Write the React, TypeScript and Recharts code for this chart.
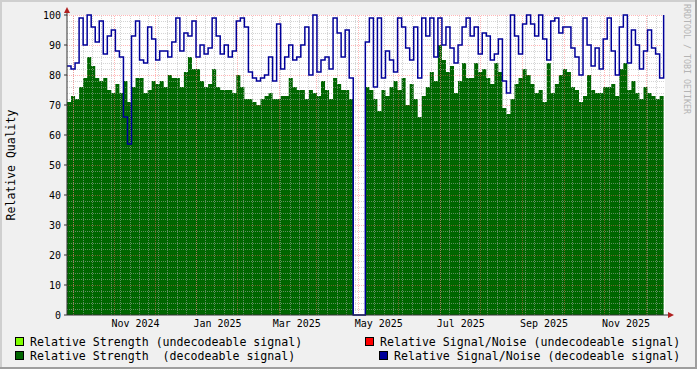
import React from 'react'
import {
  ComposedChart,
  Area,
  Line,
  XAxis,
  YAxis,
  CartesianGrid,
  ReferenceLine
} from 'recharts'

const MONO = '"DejaVu Sans Mono", monospace'
const DAY = 86400000
const START = Date.UTC(2024, 8, 11)
const END = START + 445 * DAY
const SAMPLE_DAYS = 3

// relative strength (decodeable), one sample every 3 days
const strength = [
  71, 73, 72, 76, 79, 86, 83, 79, 78, 79, 75, 74, 77, 74, 78, 71, 76, 79, 79, 74, 75, 78, 77, 78, 76,
  80, 79, 79, 76, 81, 86, 82, 82, 78, 76, 77, 82, 76, 75, 75, 75, 74, 80, 76, 72, 72, 71, 70, 72, 73,
  74, 72, 72, 73, 73, 79, 76, 75, 75, 72, 75, 74, 73, 78, 75, 72, 79, 77, 75, 75, 72, 0, 0, 0, 76,
  75, 72, 68, 75, 73, 76, 78, 75, 79, 70, 77, 72, 66, 73, 76, 81, 78, 90, 85, 81, 83, 74, 78, 84,
  79, 79, 84, 81, 82, 79, 77, 84, 81, 69, 67, 72, 77, 79, 82, 80, 77, 74, 75, 71, 84, 74, 77, 80, 82,
  81, 76, 75, 71, 73, 80, 75, 74, 74, 76, 76, 77, 73, 82, 84, 75, 78, 74, 72, 76, 74, 73, 72, 73, 79
]

// relative signal/noise (decodeable)
const snr = [
  83, 82, 84, 99, 90, 100, 96, 91, 98, 87, 93, 95, 88, 86, 66, 57, 93, 98, 85, 84, 96, 92, 85, 88, 88,
  86, 91, 99, 88, 94, 93, 98, 86, 90, 87, 89, 99, 93, 87, 90, 86, 88, 98, 99, 96, 81, 79, 78, 79, 80,
  86, 78, 97, 82, 86, 90, 85, 86, 90, 96, 80, 100, 81, 85, 86, 82, 99, 94, 86, 95, 79, 0, 0, 0, 91,
  99, 76, 99, 79, 88, 85, 81, 99, 96, 89, 85, 96, 79, 99, 93, 99, 86, 99, 90, 96, 89, 84, 90, 96,
  99, 93, 96, 87, 94, 93, 85, 87, 92, 78, 74, 100, 93, 87, 97, 100, 97, 93, 100, 92, 85, 98, 99, 94, 96,
  96, 89, 86, 80, 99, 90, 83, 89, 82, 92, 99, 88, 80, 96, 100, 84, 95, 90, 82, 88, 95, 89, 87, 79, 100
]

const tickLabels = ['Nov 2024', 'Jan 2025', 'Mar 2025', 'May 2025', 'Jul 2025', 'Sep 2025', 'Nov 2025']
const tickDates = [
  Date.UTC(2024, 10, 1), Date.UTC(2025, 0, 1), Date.UTC(2025, 2, 1), Date.UTC(2025, 4, 1),
  Date.UTC(2025, 6, 1), Date.UTC(2025, 8, 1), Date.UTC(2025, 10, 1)
]
const yTicks = [0, 10, 20, 30, 40, 50, 60, 70, 80, 90, 100]

const rows = strength.map((s, i) => ({
  t: START + i * SAMPLE_DAYS * DAY,
  strength: s,
  snr: snr[i]
}))

// grid positions
const minorY: number[] = []
for (let v = 2; v < 100; v += 2) if (v % 10 !== 0) minorY.push(v)
const weekLines: number[] = []
for (let t = Date.UTC(2024, 8, 16); t < END; t += 7 * DAY) weekLines.push(t)
const monthLines: number[] = []
for (let m = 8; m < 8 + 15; m++) {
  const t = Date.UTC(2024, m, 16)
  if (t > START && t < END) monthLines.push(t)
}

const legend = [
  { x: 15, y: 337, color: '#80ff00', text: 'Relative Strength (undecodeable signal)' },
  { x: 15, y: 351, color: '#006600', text: 'Relative Strength  (decodeable signal)' },
  { x: 365, y: 337, color: '#ff0000', text: 'Relative Signal/Noise (undecodeable signal)' },
  { x: 379, y: 351, color: '#000099', text: 'Relative Signal/Noise (decodeable signal)' }
]

const minorGrid = { stroke: '#b0b0b0', strokeOpacity: 0.55, strokeDasharray: '1 1', shapeRendering: 'crispEdges' }
const majorGrid = { stroke: '#ff6060', strokeOpacity: 0.45, strokeDasharray: '1 1', shapeRendering: 'crispEdges' }

export default function App() {
  return (
    <div style={{ position: 'absolute', left: 0, top: 0, width: 697, height: 369, background: '#f0f0f0' }}>
      <ComposedChart
        width={697}
        height={369}
        data={rows}
        margin={{ top: 15, right: 32, bottom: 34, left: 0 }}
      >
        <CartesianGrid fill="#ffffff" horizontal={false} vertical={false} />
        <XAxis
          dataKey="t"
          type="number"
          domain={[START, END]}
          ticks={tickDates}
          interval={0}
          tickFormatter={(v) => tickLabels[tickDates.indexOf(v)] || ''}
          tick={{ fontSize: 10, fill: '#000', fontFamily: MONO }}
          tickLine={false}
          tickSize={0}
          tickMargin={5}
          height={20}
          axisLine={{ stroke: '#333' }}
        />
        <YAxis
          domain={[0, 100]}
          ticks={yTicks}
          interval={0}
          width={67}
          tick={{ fontSize: 10, fill: '#000', fontFamily: MONO }}
          tickSize={3}
          tickMargin={3}
          tickLine={{ stroke: '#333' }}
          axisLine={{ stroke: '#333' }}
        />
        <Area
          type="stepAfter"
          dataKey="strength"
          stroke="none"
          fill="#006600"
          fillOpacity={1}
          isAnimationActive={false}
          dot={false}
          activeDot={false}
        />
        {minorY.map((v) => (
          <ReferenceLine key={'my' + v} y={v} {...minorGrid} />
        ))}
        {weekLines.map((t) => (
          <ReferenceLine key={'wx' + t} x={t} {...minorGrid} />
        ))}
        {yTicks.slice(1).map((v) => (
          <ReferenceLine key={'My' + v} y={v} {...majorGrid} />
        ))}
        {monthLines.map((t) => (
          <ReferenceLine key={'Mx' + t} x={t} {...majorGrid} />
        ))}
        <Line
          type="stepAfter"
          dataKey="snr"
          stroke="#000099"
          strokeWidth={1.5}
          dot={false}
          activeDot={false}
          isAnimationActive={false}
        />
      </ComposedChart>
      <svg
        width={697}
        height={369}
        style={{ position: 'absolute', left: 0, top: 0, pointerEvents: 'none' }}
      >
        <rect x={0} y={0} width={697} height={2} fill="#cfcfcf" />
        <rect x={0} y={0} width={2} height={369} fill="#cfcfcf" />
        <rect x={0} y={367} width={697} height={2} fill="#9e9e9e" />
        <rect x={695} y={0} width={2} height={369} fill="#9e9e9e" />
        <line x1={67} y1={10} x2={67} y2={15} stroke="#333" />
        <polygon points="64,13 70,13 67,7" fill="#b02020" />
        <line x1={665} y1={315} x2={670} y2={315} stroke="#333" />
        <polygon points="668,312 668,318 674,315" fill="#b02020" />
        <text
          x={11}
          y={165}
          transform="rotate(-90 11 165)"
          textAnchor="middle"
          dominantBaseline="central"
          fontFamily={MONO}
          fontSize={11.5}
          fill="#000"
        >
          Relative Quality
        </text>
        <text
          x={687}
          y={4}
          transform="rotate(90 687 4)"
          textAnchor="start"
          dominantBaseline="central"
          fontFamily={MONO}
          fontSize={8.3}
          fill="#b4b4b4"
        >
          RRDTOOL / TOBI OETIKER
        </text>
        {legend.map((l) => (
          <g key={l.text}>
            <rect x={l.x + 0.5} y={l.y + 0.5} width={8} height={8} fill={l.color} stroke="#000" />
            <text
              x={l.x + 15}
              y={l.y + 4.5}
              dominantBaseline="central"
              fontFamily={MONO}
              fontSize={11.6}
              fill="#000"
              style={{ whiteSpace: 'pre' }}
            >
              {l.text}
            </text>
          </g>
        ))}
      </svg>
    </div>
  )
}
